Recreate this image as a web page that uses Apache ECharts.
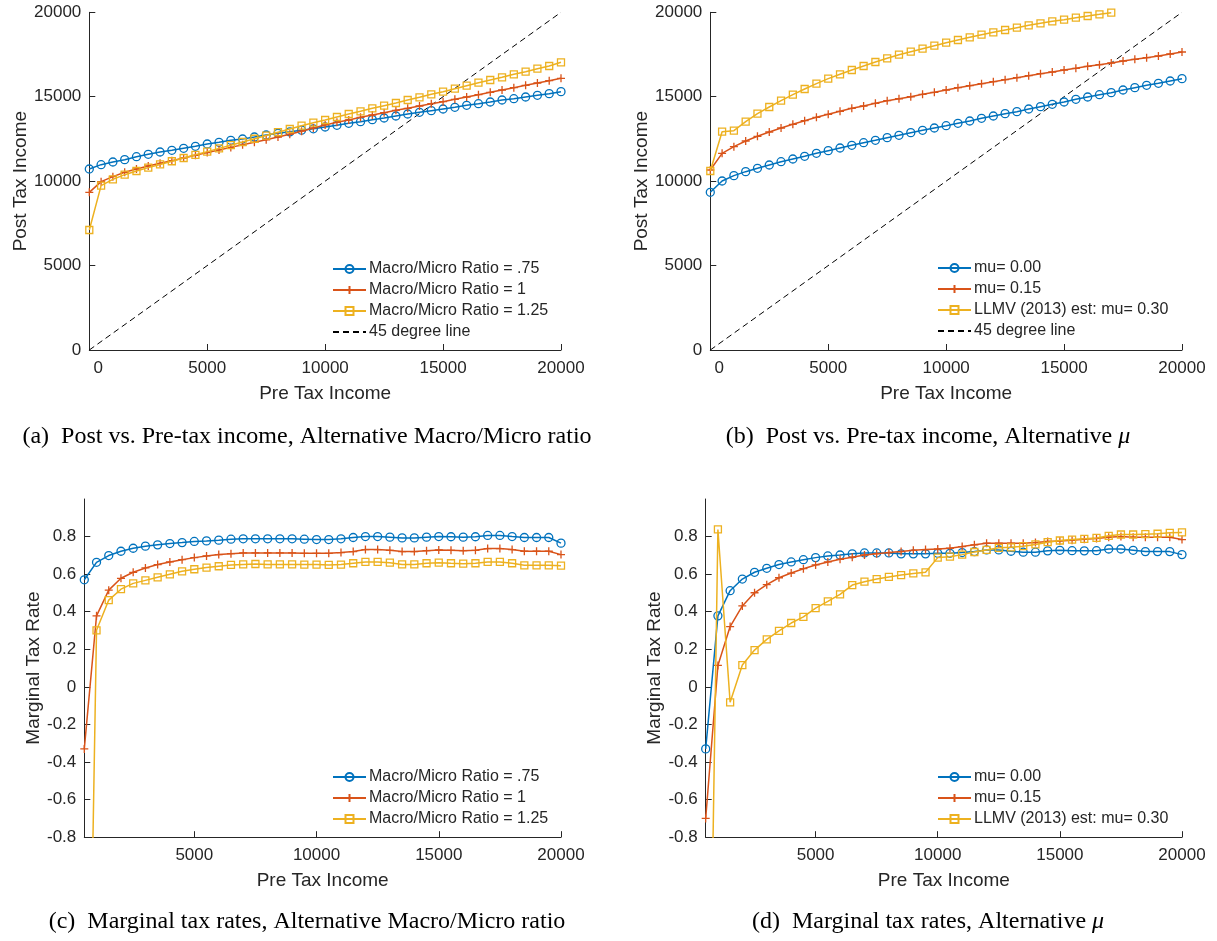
<!DOCTYPE html>
<html><head><meta charset="utf-8">
<script src="https://cdn.jsdelivr.net/npm/echarts@6/dist/echarts.min.js"></script>
<style>html,body{margin:0;padding:0;background:#fff}#c{width:1217px;height:941px}</style>
</head><body><div id="c"></div>
<script>
// ---------- data ----------
const preTaxIncome = [0,500,1000,1500,2000,2500,3000,3500,4000,4500,5000,5500,6000,6500,7000,7500,8000,8500,9000,9500,10000,
  10500,11000,11500,12000,12500,13000,13500,14000,14500,15000,15500,16000,16500,17000,17500,18000,18500,19000,19500,20000];
const mtrIncome = [500,1000,1500,2000,2500,3000,3500,4000,4500,5000,5500,6000,6500,7000,7500,8000,8500,9000,9500,10000,
  10500,11000,11500,12000,12500,13000,13500,14000,14500,15000,15500,16000,16500,17000,17500,18000,18500,19000,19500,20000];
const xTicksTop = [0,5000,10000,15000,20000];
const yTicksTop = [0,5000,10000,15000,20000];
const xTicksBottom = [5000,10000,15000,20000];
const yTicksBottom = [-0.8,-0.6,-0.4,-0.2,0,0.2,0.4,0.6,0.8];
const line45 = [0,20000];

// (a) post tax income, alternative macro/micro ratio
const postRatio075 = [10720,10976,11134,11273,11450,11589,11727,11825,11944,12062,12200,12299,12418,12497,12615,12734,12832,12920,13020,13100,13207,
  13306,13425,13523,13642,13740,13859,13977,14076,14175,14273,14372,14491,14589,14688,14807,14885,14984,15083,15182,15300];
const postRatio100 = [9338,9970,10266,10524,10720,10898,11055,11210,11370,11530,11690,11850,12000,12150,12300,12450,12610,12780,12960,13150,13330,
  13484,13622,13780,13918,14056,14194,14313,14451,14589,14708,14846,14984,15122,15261,15399,15537,15675,15813,15951,16090];
const postRatio125 = [7107,9733,10108,10384,10601,10800,10990,11180,11370,11560,11750,11940,12130,12320,12510,12700,12900,13089,13286,13464,13622,
  13800,13977,14135,14313,14471,14629,14807,14964,15142,15300,15478,15656,15833,15991,16149,16327,16485,16662,16820,17037];

// (b) post tax income, alternative mu
const postMu000 = [9338,10009,10325,10562,10759,10957,11154,11312,11470,11648,11806,11964,12122,12279,12418,12576,12714,12872,13010,13148,13286,
  13425,13563,13721,13859,13997,14116,14273,14412,14550,14688,14846,14984,15122,15241,15399,15537,15675,15794,15932,16070];
const postMu015 = [10661,11648,12043,12378,12655,12911,13148,13365,13582,13780,13958,14135,14313,14451,14609,14767,14880,15000,15142,15261,15399,
  15537,15655,15774,15892,16011,16129,16248,16366,16465,16583,16682,16800,16899,16998,17116,17215,17314,17412,17531,17649];
const postMu030 = [10601,12931,12990,13523,13997,14392,14767,15122,15458,15774,16070,16327,16583,16820,17057,17274,17491,17669,17847,18024,18202,
  18360,18518,18676,18814,18952,19091,19229,19347,19466,19564,19683,19782,19880,19979,null,null,null,null,null,null];

// (c) marginal tax rates, alternative macro/micro ratio
const mtrRatio075 = [0.570,0.663,0.699,0.722,0.738,0.749,0.756,0.763,0.768,0.774,0.777,0.781,0.786,0.788,0.788,0.788,0.788,0.788,0.786,0.784,
  0.784,0.788,0.795,0.800,0.800,0.797,0.793,0.793,0.797,0.800,0.799,0.797,0.799,0.806,0.806,0.800,0.795,0.795,0.795,0.765];
const mtrRatio100 = [-0.330,0.378,0.515,0.578,0.610,0.633,0.651,0.665,0.677,0.688,0.697,0.704,0.709,0.713,0.713,0.713,0.713,0.713,0.711,0.711,
  0.711,0.715,0.720,0.731,0.731,0.727,0.720,0.720,0.725,0.729,0.727,0.725,0.727,0.736,0.736,0.731,0.722,0.722,0.722,0.704];
const mtrRatio125 = [-3.5,0.301,0.462,0.520,0.551,0.567,0.583,0.599,0.615,0.626,0.635,0.642,0.649,0.652,0.654,0.652,0.652,0.652,0.651,0.651,
  0.649,0.651,0.658,0.665,0.665,0.661,0.652,0.652,0.658,0.661,0.658,0.656,0.658,0.665,0.665,0.658,0.647,0.647,0.647,0.645];

// (d) marginal tax rates, alternative mu
const mtrMu000 = [-0.330,0.378,0.512,0.574,0.610,0.631,0.651,0.665,0.677,0.688,0.697,0.702,0.708,0.713,0.713,0.713,0.708,0.708,0.708,0.711,
  0.711,0.715,0.720,0.729,0.729,0.722,0.717,0.717,0.724,0.727,0.725,0.724,0.725,0.734,0.734,0.727,0.720,0.720,0.720,0.704];
const mtrMu015 = [-0.70,0.114,0.321,0.431,0.501,0.544,0.581,0.606,0.629,0.649,0.665,0.679,0.690,0.702,0.709,0.715,0.720,0.727,0.731,0.734,
  0.738,0.747,0.756,0.765,0.765,0.765,0.765,0.768,0.774,0.777,0.781,0.786,0.790,0.797,0.800,0.797,0.797,0.797,0.797,0.784];
const mtrMu030 = [-3.3,0.838,-0.082,0.116,0.196,0.253,0.298,0.340,0.373,0.419,0.455,0.492,0.542,0.560,0.574,0.585,0.595,0.604,0.610,0.688,
  0.693,0.704,0.718,0.729,0.740,0.743,0.749,0.758,0.770,0.779,0.784,0.788,0.793,0.804,0.811,0.811,0.813,0.815,0.820,0.822];

const namesRatio = ['Macro/Micro Ratio = .75','Macro/Micro Ratio = 1','Macro/Micro Ratio = 1.25'];
const namesMu = ['mu= 0.00','mu= 0.15','LLMV (2013) est: mu= 0.30'];
const name45 = '45 degree line';

// ---------- styles ----------
const BLUE = '#0072BD', RED = '#D95319', YEL = '#EDB120', INK = '#262626';
const FONT = '"Liberation Sans", Arial, Helvetica, sans-serif';
const SERIF = '"Liberation Serif", "Times New Roman", serif';
const markers = [
  {symbol:'circle', size:8},
  {symbol:'path://M5 0L5 10M0 5L10 5', size:8},
  {symbol:'rect', size:7}
];
const colors = [BLUE, RED, YEL];

function pairs(xs, ys){ return xs.map((x,i)=>[x, ys[i]]); }
function dataSeries(name, xs, ys, k, gi){
  return {
    type:'line', name, xAxisIndex:gi, yAxisIndex:gi,
    data: pairs(xs, ys), connectNulls:false,
    symbol: markers[k].symbol, symbolSize: markers[k].size, showSymbol:true, showAllSymbol:true,
    lineStyle:{color:colors[k], width:1.5},
    itemStyle:{color:'rgba(255,255,255,0)', borderColor:colors[k], borderWidth:1.3},
    emphasis:{disabled:true}, animation:false, clip:true, z:3+k
  };
}
function diagSeries(gi){
  return {
    type:'line', name:name45, xAxisIndex:gi, yAxisIndex:gi,
    data: pairs(line45, line45), symbol:'none',
    lineStyle:{color:'#000', width:1, type:[6,4]},
    itemStyle:{color:'rgba(0,0,0,0)', borderColor:'rgba(0,0,0,0)', borderWidth:0},
    emphasis:{disabled:true}, animation:false, z:2
  };
}
const axisCommon = {
  axisLine:{show:true, onZero:false, lineStyle:{color:INK, width:1}},
  axisTick:{show:true, inside:true, length:6, lineStyle:{color:INK, width:1}},
  splitLine:{show:false},
  nameLocation:'middle',
  nameTextStyle:{fontSize:19, color:INK, fontFamily:FONT}
};
function fmtNum(v){ const r = Math.round(v*10)/10; return r === 0 ? '0' : String(r); }

function xTop(gi){
  return Object.assign({}, axisCommon, {
    gridIndex:gi, type:'value', min:0, max:20000, interval:5000,
    name:'Pre Tax Income', nameGap:34,
    axisTick:Object.assign({}, axisCommon.axisTick, {customValues:xTicksTop}),
    axisLabel:{customValues:xTicksTop, color:INK, fontSize:17, fontFamily:FONT, margin:10,
      formatter:v=> v===0 ? '{z|0}' : String(v),
      rich:{z:{padding:[0,0,0,18], fontSize:17, color:INK, fontFamily:FONT}}}
  });
}
function yTop(gi){
  return Object.assign({}, axisCommon, {
    gridIndex:gi, type:'value', min:0, max:20000, interval:5000,
    name:'Post Tax Income', nameGap:58,
    axisTick:Object.assign({}, axisCommon.axisTick, {customValues:yTicksTop}),
    axisLabel:{customValues:yTicksTop, color:INK, fontSize:17, fontFamily:FONT, margin:8, formatter:v=>String(v)}
  });
}
function xBot(gi){
  return Object.assign({}, axisCommon, {
    gridIndex:gi, type:'value', min:500, max:20000,
    name:'Pre Tax Income', nameGap:34,
    axisTick:Object.assign({}, axisCommon.axisTick, {customValues:xTicksBottom}),
    axisLabel:{customValues:xTicksBottom, color:INK, fontSize:17, fontFamily:FONT, margin:10, formatter:v=>String(v)}
  });
}
function yBot(gi){
  return Object.assign({}, axisCommon, {
    gridIndex:gi, type:'value', min:-0.8, max:1.0,
    name:'Marginal Tax Rate', nameGap:41,
    axisTick:Object.assign({}, axisCommon.axisTick, {customValues:yTicksBottom}),
    axisLabel:{customValues:yTicksBottom, color:INK, fontSize:17, fontFamily:FONT, margin:8, formatter:fmtNum}
  });
}
function legend(names, left, top){
  return {
    data:names, orient:'vertical', left, top, padding:0,
    itemWidth:33, itemHeight:10, itemGap:5,
    textStyle:{fontSize:16, color:INK, fontFamily:FONT, padding:[0,0,0,-2]},
    selectedMode:false, backgroundColor:'transparent'
  };
}

const option = {
  backgroundColor:'#fff',
  animation:false,
  grid:[
    {left:89.3, top:12.3, width:471.7, height:337.7},
    {left:710.3, top:12.3, width:471.7, height:337.7},
    {left:84.3, top:499, width:476.7, height:338.2},
    {left:705.7, top:499, width:476.3, height:338.2}
  ],
  xAxis:[xTop(0), xTop(1), xBot(2), xBot(3)],
  yAxis:[yTop(0), yTop(1), yBot(2), yBot(3)],
  legend:[
    legend(namesRatio.concat([name45]), 332, 261),
    legend(namesMu.concat([name45]), 937, 260),
    legend(namesRatio, 332, 769),
    legend(namesMu, 937, 769)
  ],
  series:[
    diagSeries(0),
    dataSeries(namesRatio[0], preTaxIncome, postRatio075, 0, 0),
    dataSeries(namesRatio[1], preTaxIncome, postRatio100, 1, 0),
    dataSeries(namesRatio[2], preTaxIncome, postRatio125, 2, 0),
    diagSeries(1),
    dataSeries(namesMu[0], preTaxIncome, postMu000, 0, 1),
    dataSeries(namesMu[1], preTaxIncome, postMu015, 1, 1),
    dataSeries(namesMu[2], preTaxIncome, postMu030, 2, 1),
    dataSeries(namesRatio[0], mtrIncome, mtrRatio075, 0, 2),
    dataSeries(namesRatio[1], mtrIncome, mtrRatio100, 1, 2),
    dataSeries(namesRatio[2], mtrIncome, mtrRatio125, 2, 2),
    dataSeries(namesMu[0], mtrIncome, mtrMu000, 0, 3),
    dataSeries(namesMu[1], mtrIncome, mtrMu015, 1, 3),
    dataSeries(namesMu[2], mtrIncome, mtrMu030, 2, 3)
  ],
  graphic:[
    {type:'text', x:307, y:437, style:{text:'(a)  Post vs. Pre-tax income, Alternative Macro/Micro ratio', font:'24px '+SERIF, fill:'#000', align:'center', verticalAlign:'middle'}},
    {type:'text', x:928, y:437, style:{text:'(b)  Post vs. Pre-tax income, Alternative {i|μ}', font:'24px '+SERIF, fill:'#000', align:'center', verticalAlign:'middle',
      rich:{i:{fontStyle:'italic', fontSize:24, fontFamily:SERIF, fill:'#000'}}}},
    {type:'text', x:307, y:922, style:{text:'(c)  Marginal tax rates, Alternative Macro/Micro ratio', font:'24px '+SERIF, fill:'#000', align:'center', verticalAlign:'middle'}},
    {type:'text', x:928, y:922, style:{text:'(d)  Marginal tax rates, Alternative {i|μ}', font:'24px '+SERIF, fill:'#000', align:'center', verticalAlign:'middle',
      rich:{i:{fontStyle:'italic', fontSize:24, fontFamily:SERIF, fill:'#000'}}}}
  ]
};
const chart = echarts.init(document.getElementById('c'), null, {renderer:'canvas'});
chart.setOption(option);
</script>
</body></html>
